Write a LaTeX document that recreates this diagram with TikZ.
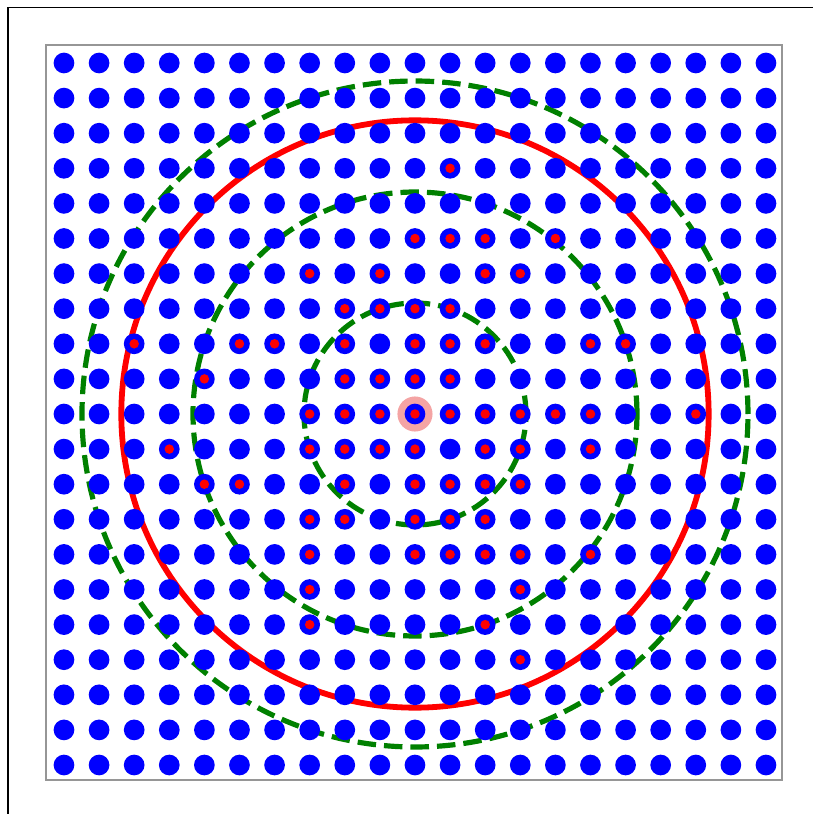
\documentclass[tikz,border=0pt]{standalone}
\usepackage{tikz}
\usetikzlibrary{positioning}

\definecolor{mplgreen}{RGB}{0,128,0}
\definecolor{halopink}{RGB}{244,164,164}
\definecolor{framegray}{RGB}{150,150,150}

\begin{document}
\begin{tikzpicture}[
    x=1cm, y=1cm,
    site/.style={fill=blue},
    hit/.style={fill=red},
    halo/.style={fill=halopink},
    cutoff/.style={draw=red, line width=4.7pt},
    shell/.style={draw=mplgreen, line width=4.2pt, dash pattern=on 15pt off 6.5pt},
    axesbox/.style={draw=framegray, line width=1.5pt},
    figedge/.style={draw=black, line width=1.2pt},
  ]
  \useasboundingbox (-11.823,-11.396) rectangle (11.311,11.795);
  % figure edge and axes box
  \coordinate (o) at (0,0);
  \draw[figedge] (-11.595,-11.6) -- (-11.595,11.58) -- (11.6,11.58);
  \draw[axesbox] (-10.52,-10.43) rectangle (10.45,10.51);
  % shells and cutoff
  \foreach \k in {1,2,3}
    \draw[shell] (o) circle[radius={sqrt(10)*\k}];
  \draw[cutoff] (o) circle[radius={sqrt(70)}];
  % lattice sites
  \fill[halo] (o) circle[radius=0.5];
  \foreach \i in {-10,...,10}
    \foreach \j in {-10,...,10}
      \fill[site] (\i,\j) circle[radius=0.295];
  % selected sites
  \foreach \p in {(1,7),
      (0,5),(1,5),(2,5),(4,5),
      (-3,4),(-1,4),(2,4),(3,4),
      (-2,3),(-1,3),(0,3),(1,3),
      (-8,2),(-5,2),(-4,2),(-2,2),(0,2),(1,2),(2,2),(5,2),(6,2),
      (-6,1),(-2,1),(-1,1),(0,1),(1,1),
      (-3,0),(-2,0),(-1,0),(0,0),(1,0),(2,0),(3,0),(4,0),(5,0),(8,0),
      (-7,-1),(-3,-1),(-2,-1),(-1,-1),(0,-1),(2,-1),(3,-1),(5,-1),
      (-6,-2),(-5,-2),(-2,-2),(0,-2),(1,-2),(2,-2),(3,-2),
      (-3,-3),(-2,-3),(0,-3),(1,-3),(2,-3),
      (-3,-4),(0,-4),(1,-4),(2,-4),(3,-4),(5,-4),
      (-3,-5),(3,-5),
      (-3,-6),(2,-6),
      (3,-7)}
    \fill[hit] \p circle[radius=0.135];
\end{tikzpicture}
\end{document}
